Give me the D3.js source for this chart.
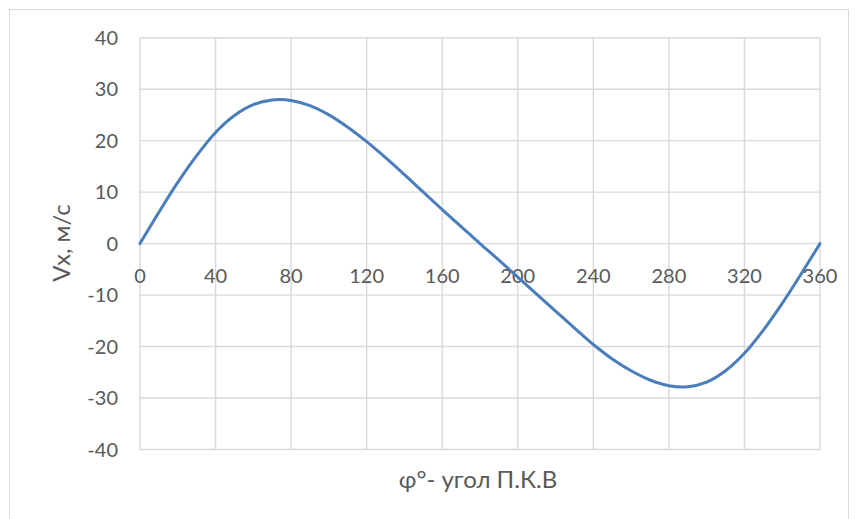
<!DOCTYPE html>
<html>
<head>
<meta charset="utf-8">
<script src="https://cdn.jsdelivr.net/npm/d3@7"></script>
<style>
  html, body { margin: 0; padding: 0; background: #ffffff; }
  svg { display: block; }
  text { font-family: Lato, "Open Sans", sans-serif; fill: #595959; }
</style>
</head>
<body>
<svg id="chart" width="855" height="519"></svg>
<script>
// Data
const angles = [0, 10, 20, 30, 40, 50, 60, 70, 80, 90, 100, 110, 120, 130, 140, 150, 160, 170, 180,
                190, 200, 210, 220, 230, 240, 250, 260, 270, 280, 290, 300, 310, 320, 330, 340, 350, 360];
const vx = [0, 6.1, 11.9, 17.1, 21.6, 24.9, 27.0, 27.9, 27.8, 26.8, 25.0, 22.6, 19.8, 16.7, 13.4, 10.0, 6.6, 3.3, 0,
            -3.2, -6.5, -9.8, -13.1, -16.4, -19.6, -22.4, -24.7, -26.5, -27.6, -27.8, -26.9, -24.7, -21.3, -16.8, -11.6, -5.9, 0];
const xTicks = [0, 40, 80, 120, 160, 200, 240, 280, 320, 360];
const yTicks = [-40, -30, -20, -10, 0, 10, 20, 30, 40];
const xTitle = "φ°- угол П.К.В";
const yTitle = "Vx, м/с";

const svg = d3.select("#chart");

// chart area border
svg.append("rect")
  .attr("x", 9.5).attr("y", 9.5)
  .attr("width", 839).attr("height", 520)
  .attr("fill", "#ffffff")
  .attr("stroke", "#d9d9d9").attr("stroke-width", 1);

const x = d3.scaleLinear().domain([0, 360]).range([140, 820]);
const y = d3.scaleLinear().domain([-40, 40]).range([449.5, 37.7]);

// horizontal gridlines
svg.append("g").selectAll("line").data(yTicks).join("line")
  .attr("x1", x(0)).attr("x2", x(360))
  .attr("y1", d => y(d)).attr("y2", d => y(d))
  .attr("stroke", "#d9d9d9").attr("stroke-width", 1.4);

// vertical gridlines
svg.append("g").selectAll("line").data(xTicks).join("line")
  .attr("x1", d => x(d)).attr("x2", d => x(d))
  .attr("y1", y(40)).attr("y2", y(-40))
  .attr("stroke", "#d9d9d9").attr("stroke-width", 1.4);

// y tick labels
svg.append("g").selectAll("text").data(yTicks).join("text")
  .attr("x", 118).attr("y", d => y(d))
  .attr("dy", "0.36em")
  .attr("text-anchor", "end")
  .attr("font-size", 20)
  .text(d => d);

// x tick labels (below the zero line)
svg.append("g").selectAll("text").data(xTicks).join("text")
  .attr("x", d => x(d)).attr("y", y(0) + 39)
  .attr("text-anchor", "middle")
  .attr("font-size", 20)
  .text(d => d);

// series line
const line = d3.line()
  .x((d, i) => x(angles[i]))
  .y(d => y(d))
  .curve(d3.curveCatmullRom.alpha(0.5));

svg.append("path")
  .datum(vx)
  .attr("d", line)
  .attr("fill", "none")
  .attr("stroke", "#4a7ebb")
  .attr("stroke-width", 3)
  .attr("stroke-linecap", "round")
  .attr("stroke-linejoin", "round");

// axis titles
svg.append("text")
  .attr("x", 478).attr("y", 488)
  .attr("text-anchor", "middle")
  .attr("font-size", 24)
  .text(xTitle);

svg.append("text")
  .attr("transform", "translate(70,243) rotate(-90)")
  .attr("text-anchor", "middle")
  .attr("font-size", 24)
  .text(yTitle);
</script>
</body>
</html>
